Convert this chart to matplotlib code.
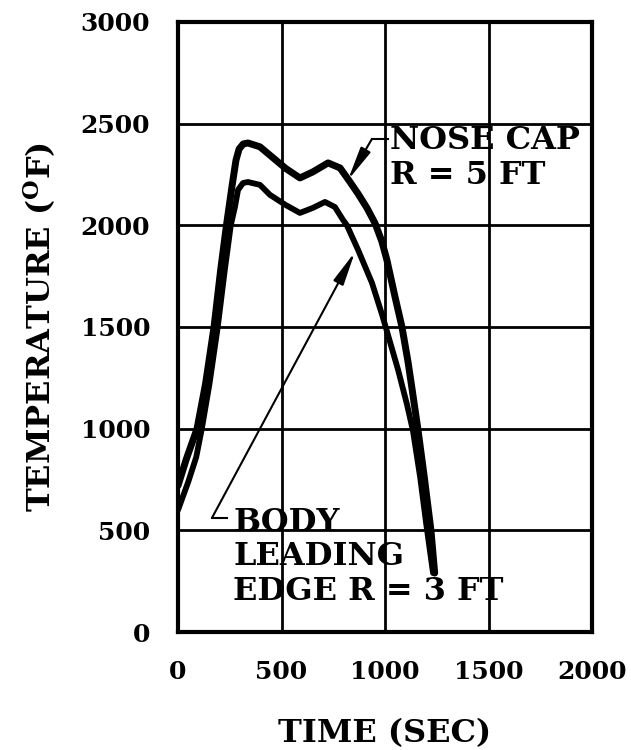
import matplotlib
matplotlib.use("Agg")
from matplotlib import pyplot as plt

plt.rcParams['font.family'] = ['DejaVu Serif']
plt.rcParams['font.weight'] = 'bold'
plt.rcParams['mathtext.fontset'] = 'dejavuserif'

# nose cap R = 5 ft
nose_t = [0, 40, 92, 133, 174, 206, 234, 262, 280, 295, 315, 338, 396, 444, 520, 589, 652, 725,
          783, 831, 870, 913, 952, 985, 1009, 1048, 1082, 1111, 1130, 1160, 1190, 1222, 1240]
nose_T = [720, 850, 1000, 1220, 1500, 1780, 2000, 2200, 2320, 2375, 2400, 2405, 2386, 2345, 2280, 2233, 2263, 2307,
          2282, 2213, 2155, 2085, 2010, 1920, 1830, 1650, 1500, 1330, 1200, 990, 760, 500, 290]

# body leading edge R = 3 ft
body_t = [0, 50, 88, 115, 152, 192, 226, 255, 275, 290, 314, 338, 396, 444, 520, 589, 652, 710,
          758, 797, 816, 870, 937, 986, 1009, 1063, 1106, 1135, 1170, 1198, 1232]
body_T = [600, 740, 860, 1000, 1220, 1500, 1780, 2000, 2090, 2174, 2208, 2213, 2199, 2150, 2100, 2061, 2086, 2115,
          2090, 2027, 2000, 1879, 1717, 1560, 1480, 1290, 1120, 990, 760, 540, 290]

x_ticks = [0, 500, 1000, 1500, 2000]
y_ticks = [0, 500, 1000, 1500, 2000, 2500, 3000]

nose_label = "NOSE CAP\nR = 5 FT"
body_label = "BODY\nLEADING\nEDGE R = 3 FT"

fig = plt.figure(figsize=(6.31, 7.5), dpi=100)
ax = fig.add_axes([0.2821, 0.1573, 0.9382 - 0.2821, 0.9707 - 0.1573])

ax.set_xlim(0, 2000)
ax.set_ylim(0, 3000)
ax.set_xticks(x_ticks)
ax.set_yticks(y_ticks)
ax.grid(True, color='black', linewidth=2.0)
ax.set_axisbelow(True)
for s in ax.spines.values():
    s.set_linewidth(3)
ax.tick_params(length=0, labelsize=18, pad=20)
for lab in ax.get_xticklabels() + ax.get_yticklabels():
    lab.set_fontweight('bold')

ax.plot(nose_t, nose_T, color='black', lw=5, solid_capstyle='round', solid_joinstyle='round', zorder=3)
ax.plot(body_t, body_T, color='black', lw=4.2, solid_capstyle='round', solid_joinstyle='round', zorder=3)

# nose cap label and leader
ax.text(1024, 2331, nose_label, fontsize=23, fontweight='bold', va='center', ha='left',
        linespacing=1.2)
ax.plot([1014, 937], [2425, 2425], color='black', lw=1.5)
ax.annotate("", xy=(821, 2223), xytext=(937, 2425),
            arrowprops=dict(arrowstyle='-|>,head_length=1.7,head_width=0.28', color='black',
                            lw=1.5, mutation_scale=12, shrinkA=0, shrinkB=0))

# body leading edge label and leader
ax.text(266, 369, body_label, fontsize=23, fontweight='bold', va='center', ha='left',
        linespacing=1.15)
ax.plot([237, 164], [561, 561], color='black', lw=1.5)
ax.annotate("", xy=(855, 1869), xytext=(164, 561),
            arrowprops=dict(arrowstyle='-|>,head_length=1.7,head_width=0.28', color='black',
                            lw=1.5, mutation_scale=12, shrinkA=0, shrinkB=0))

ax.set_xlabel("TIME (SEC)", fontsize=23, fontweight='bold', labelpad=25)
ax.set_ylabel(r"TEMPERATURE ($^{\mathbf{O}}$F)", fontsize=23, fontweight='bold', labelpad=16)

fig.savefig("out.png", dpi=100)
